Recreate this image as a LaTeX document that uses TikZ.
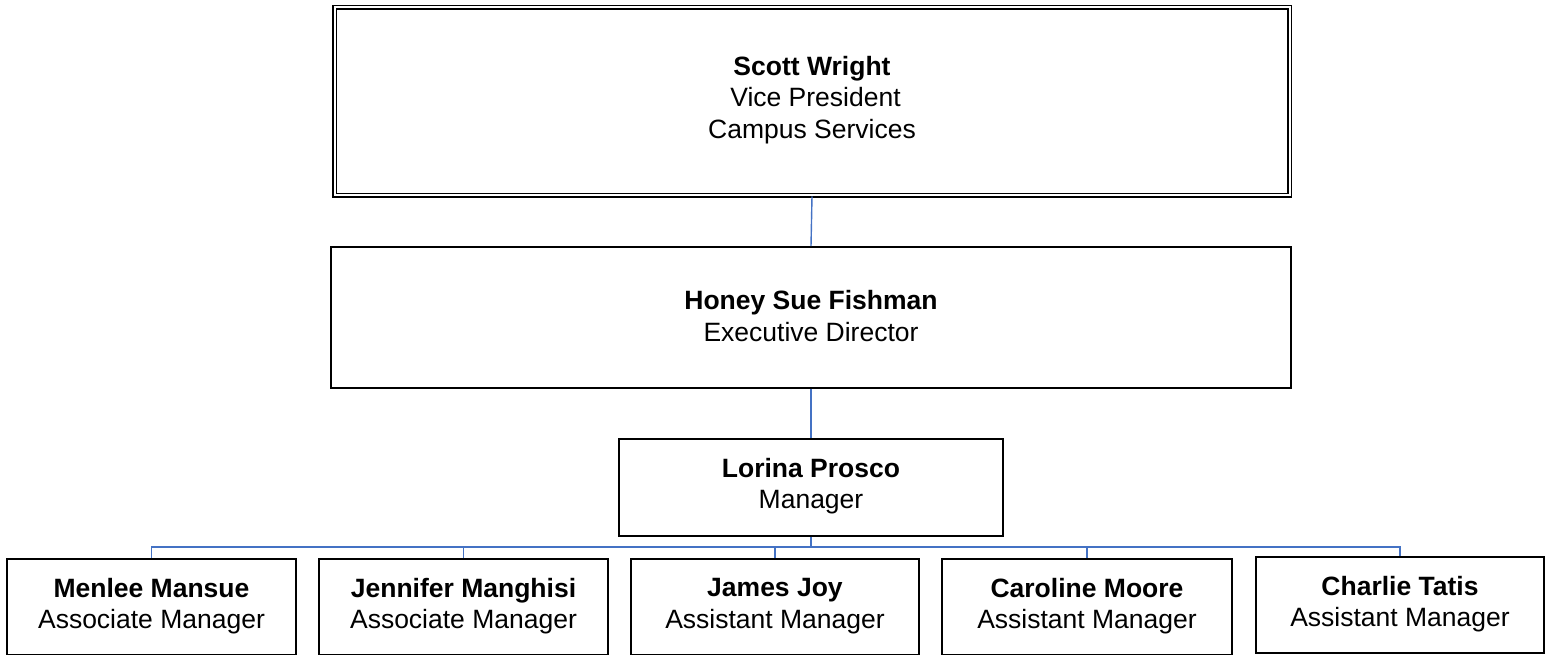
\documentclass[tikz,border=0pt]{standalone}
\usepackage{fontspec}
\setmainfont{Liberation Sans}
\definecolor{linkblue}{RGB}{68,114,196}
\begin{document}
\begin{tikzpicture}[x=1pt,y=-1pt,
  box/.style={draw=black,line width=1.6pt,rectangle,inner sep=0pt,fill=white},
  topbox/.style={draw=black,line width=1.6pt,double,double distance=2pt,rectangle,inner sep=0pt},
  lbl/.style={align=center,font=\fontsize{26.5}{31.5}\selectfont,inner sep=0pt},
  link/.style={draw=linkblue,line width=1.4pt}]
\useasboundingbox (0,0) rectangle (1551,655);
% boxes
\node[topbox,minimum width=955pt,minimum height=188pt] (vp) at (812,101.5) {};
\node[box,minimum width=960pt,minimum height=141pt] (ed) at (811,317.5) {};
\node[box,minimum width=384pt,minimum height=97pt] (mgr) at (811,487.5) {};
\node[box,minimum width=289pt,minimum height=96pt] (b1) at (151.5,607) {};
\node[box,minimum width=289pt,minimum height=96pt] (b2) at (463.5,607) {};
\node[box,minimum width=288pt,minimum height=96pt] (b3) at (775,607) {};
\node[box,minimum width=290pt,minimum height=96pt] (b4) at (1087,607) {};
\node[box,minimum width=288pt,minimum height=96pt] (b5) at (1400,605) {};
% texts
\node[lbl] (tvp) at (812,100) {\textbf{Scott Wright}\\\hspace*{7pt}Vice President\\Campus Services};
\node[lbl] (ted) at (811,316) {\textbf{Honey Sue Fishman}\\Executive Director};
\node[lbl] (tmgr) at (811,486) {\textbf{Lorina Prosco}\\Manager};
\node[lbl] (t1) at (151.5,606) {\textbf{Menlee Mansue}\\Associate Manager};
\node[lbl] (t2) at (463.5,606) {\textbf{Jennifer Manghisi}\\Associate Manager};
\node[lbl] (t3) at (775,606) {\textbf{James Joy}\\Assistant Manager};
\node[lbl] (t4) at (1087,606) {\textbf{Caroline Moore}\\Assistant Manager};
\node[lbl] (t5) at (1400,604) {\textbf{Charlie Tatis}\\Assistant Manager};
% connectors
\coordinate (bus) at (811,547);
\draw[link] (vp.south) -- (ed.north);
\draw[link] (ed.south) -- (mgr.north);
\draw[link] (mgr.south) -- (bus);
\draw[link] (b1.north) -- (b1.north |- bus) -- (b5.north |- bus) -- (b5.north);
\draw[link] (b2.north) -- (b2.north |- bus);
\draw[link] (b3.north) -- (b3.north |- bus);
\draw[link] (b4.north) -- (b4.north |- bus);
\end{tikzpicture}
\end{document}
